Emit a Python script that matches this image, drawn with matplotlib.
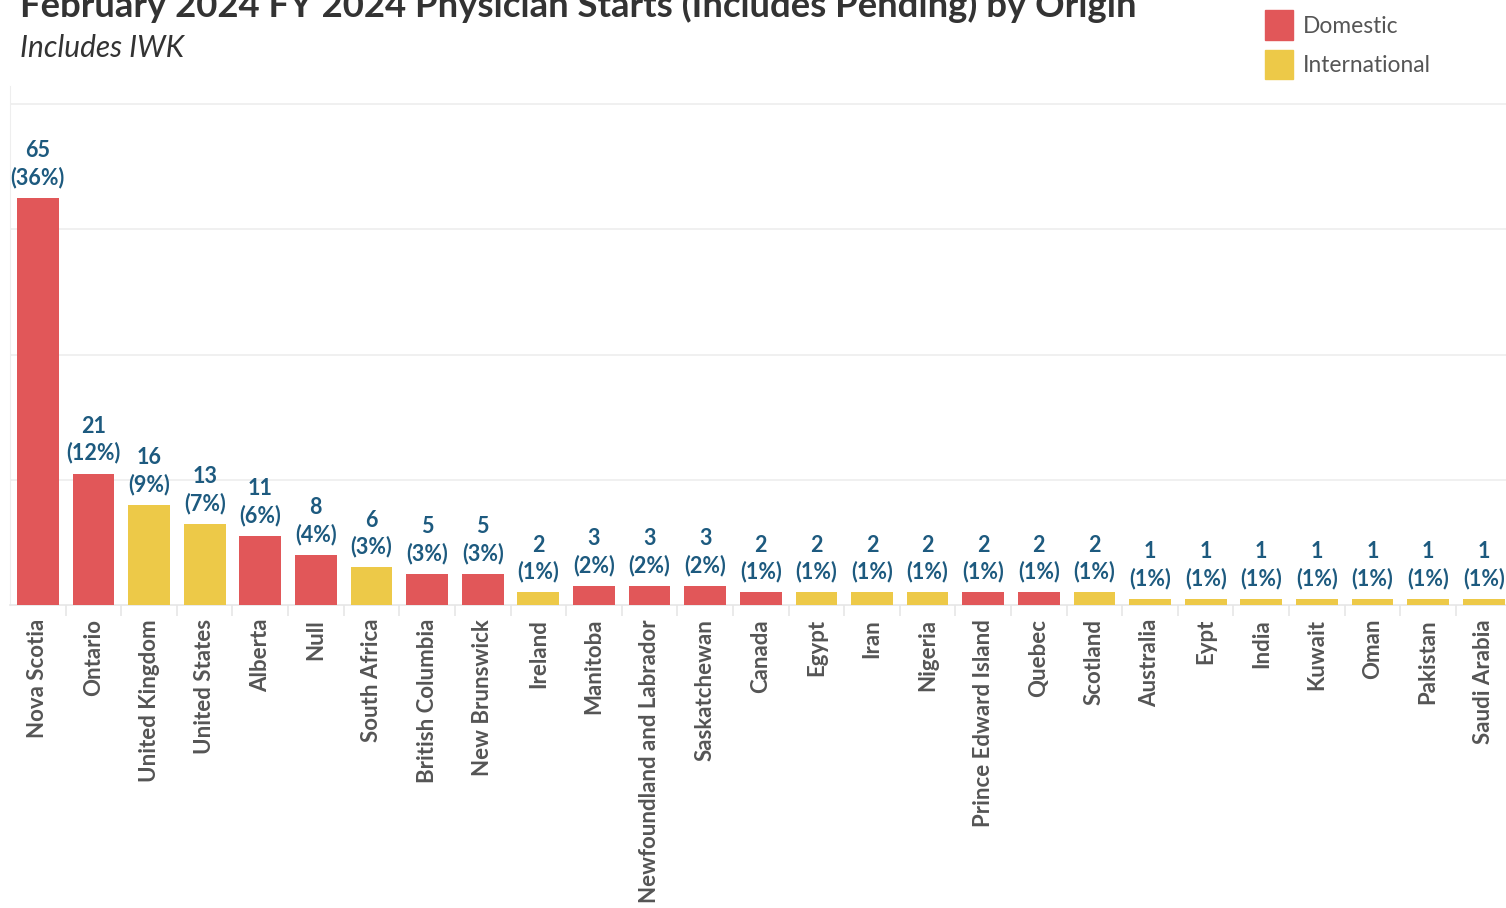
import matplotlib.pyplot as plt
from matplotlib.patches import Patch

# datos del grafico
origins = ["Nova Scotia", "Ontario", "United Kingdom", "United States", "Alberta", "Null",
           "South Africa", "British Columbia", "New Brunswick", "Ireland", "Manitoba",
           "Newfoundland and Labrador", "Saskatchewan", "Canada", "Egypt", "Iran", "Nigeria",
           "Prince Edward Island", "Quebec", "Scotland", "Australia", "Eypt", "India",
           "Kuwait", "Oman", "Pakistan", "Saudi Arabia"]
starts = [65, 21, 16, 13, 11, 8, 6, 5, 5, 2, 3, 3, 3, 2, 2, 2, 2, 2, 2, 2, 1, 1, 1, 1, 1, 1, 1]
group = ["D", "D", "I", "I", "D", "D", "I", "D", "D", "I", "D", "D", "D", "D", "I", "I", "I",
         "D", "D", "I", "I", "I", "I", "I", "I", "I", "I"]

RED = "#E15759"
YELLOW = "#EDC948"
LABEL = "#1D5A7F"
FONT = "Lato"

plt.rcParams["font.family"] = [FONT, "DejaVu Sans"]

total = sum(starts)
colors = [RED if g == "D" else YELLOW for g in group]

fig = plt.figure(figsize=(15.06, 9.08), dpi=100)
ax = fig.add_axes([10 / 1506, 303 / 908, 1496 / 1506, 519 / 908])

x = list(range(len(origins)))
ax.bar(x, starts, width=0.75, color=colors, zorder=3)

# etiquetas de valor y porcentaje
for i, v in enumerate(starts):
    pct = round(100 * v / total)
    ax.annotate(f"{v}\n({pct}%)", (i, v), xytext=(0, 7), textcoords="offset points",
                ha="center", va="bottom", fontsize=15.5, fontweight="bold", color=LABEL,
                linespacing=1.3)

ax.set_xlim(-0.5, 26.4)
ax.set_ylim(0, 82.9)
ax.set_yticks([20, 40, 60, 80])
ax.yaxis.grid(True, color="#EEEEEE", linewidth=1.2, zorder=0)
ax.tick_params(axis="y", length=0, labelleft=False)

ax.set_xticks(x)
ax.set_xticklabels(origins, rotation=90, fontsize=16, fontweight="bold", color="#555555")
ax.tick_params(axis="x", which="major", length=0, pad=10)
ax.set_xticks([i + 0.5 for i in x[:-1]], minor=True)
ax.tick_params(axis="x", which="minor", length=8, color="#E6E6E6", width=1.2)

for side in ["top", "right"]:
    ax.spines[side].set_visible(False)
ax.spines["left"].set_color("#EEEEEE")
ax.spines["bottom"].set_color("#E6E6E6")
ax.spines["bottom"].set_linewidth(1.2)

# titulo y subtitulo
fig.text(20 / 1506, 1 - 17 / 908, "February 2024 FY 2024 Physician Starts (Includes Pending) by Origin",
         fontsize=26.3, fontweight="bold", color="#333333", va="baseline")
fig.text(20 / 1506, 1 - 48 / 908, "Includes IWK", fontsize=21.5, style="italic",
         color="#333333", va="center")

# leyenda
handles = [Patch(color=RED, label="Domestic"), Patch(color=YELLOW, label="International")]
fig.legend(handles=handles, loc="upper left", bbox_to_anchor=(1244 / 1506, 1 + 10 / 908),
           frameon=False, fontsize=16.4, handlelength=1.23, handleheight=1.6,
           labelspacing=0.45, handletextpad=0.45, labelcolor="#555555")

fig.savefig("out.png", dpi=100)
